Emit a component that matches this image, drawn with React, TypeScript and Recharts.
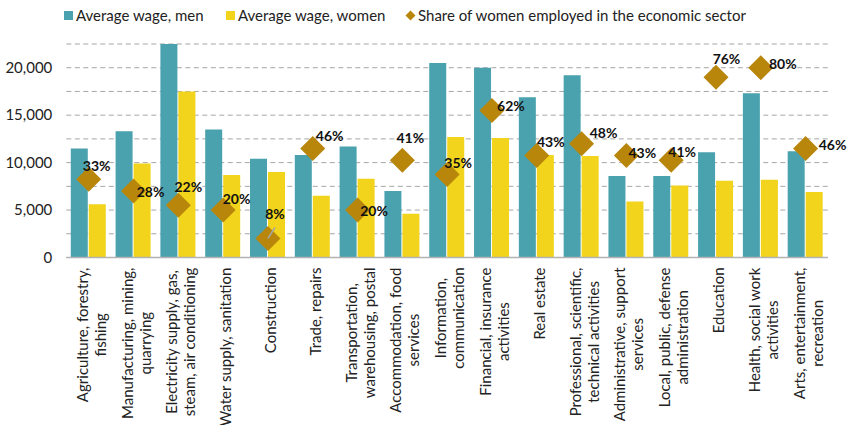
import React from 'react';
import { ComposedChart, Bar, Line, XAxis, YAxis, CartesianGrid, LabelList } from 'recharts';

const categories = [
  'Agriculture, forestry,\nfishing',
  'Manufacturing, mining,\nquarrying',
  'Electricity supply, gas,\nsteam, air conditioning',
  'Water supply, sanitation',
  'Construction',
  'Trade, repairs',
  'Transportation,\nwarehousing, postal',
  'Accommodation, food\nservices',
  'Information,\ncommunication',
  'Financial, insurance\nactivities',
  'Real estate',
  'Professional, scientific,\ntechnical activities',
  'Administrative, support\nservices',
  'Local, public, defense\nadministration',
  'Education',
  'Health, social work\nactivities',
  'Arts, entertainment,\nrecreation',
];
const menWages = [11500, 13300, 22500, 13500, 10400, 10800, 11700, 7000, 20500, 20000, 16900, 19200, 8600, 8600, 11100, 17300, 11200];
const womenWages = [5600, 9900, 17500, 8700, 9000, 6500, 8300, 4600, 12700, 12600, 10800, 10700, 5900, 7600, 8100, 8200, 6900];
const womenShare = [33, 28, 22, 20, 8, 46, 20, 41, 35, 62, 43, 48, 43, 41, 76, 80, 46];
const wageTicks = [0, 2500, 5000, 7500, 10000, 12500, 15000, 17500, 20000, 22500];
const seriesNames = ['Average wage, men', 'Average wage, women', 'Share of women employed in the economic sector'];

// label placement relative to each diamond (layout, not data)
const shareLabelOffsets: [number, number][] = [
  [8, -14], [17, 0], [10, -19], [13.5, -12], [7, -25], [17, -13], [16.5, 0], [8, -23], [11, -12],
  [19, -5], [14, -14], [22, -11], [16, -3], [11, -9], [10.5, -19], [22, -4], [27, -4],
];

const TEAL = '#4aa2ae';
const YELLOW = '#f1d41b';
const GOLD = '#b8860b';
const FONT = 'Lato, "Open Sans", sans-serif';

const data = categories.map((c, i) => ({
  name: c,
  men: menWages[i],
  women: womenWages[i],
  share: womenShare[i],
}));

let ctx: CanvasRenderingContext2D | null = null;
const measure = (t: string) => {
  if (!ctx) ctx = document.createElement('canvas').getContext('2d');
  if (!ctx) return t.length * 7;
  ctx.font = '15px Lato';
  return ctx.measureText(t).width;
};

const CategoryTick = (props: any) => {
  const { x, y, payload } = props;
  const lines = String(payload.value).split('\n');
  const maxW = Math.max(...lines.map(measure));
  const n = lines.length;
  return (
    <g transform={`translate(${x + 2},${y + 10}) rotate(-90)`}>
      {lines.map((l, i) => (
        <text
          key={i}
          x={-maxW / 2}
          y={(i - (n - 1) / 2) * 18}
          textAnchor="middle"
          dominantBaseline="central"
          fontFamily={FONT}
          fontSize={15}
          fill="#222"
        >
          {l}
        </text>
      ))}
    </g>
  );
};

const Diamond = (props: any) => {
  const { cx, cy, index } = props;
  if (cx == null || cy == null) return <g key={index} />;
  const r = 12.5;
  return (
    <path
      key={index}
      d={`M${cx},${cy - r} L${cx + r},${cy} L${cx},${cy + r} L${cx - r},${cy} Z`}
      fill={GOLD}
    />
  );
};

const ShareLabel = (props: any) => {
  const { x, y, value, index } = props;
  const [dx, dy] = shareLabelOffsets[index] || [10, -10];
  return (
    <g>
      {index === 4 && (
        <line x1={x} y1={y} x2={x + 7} y2={y - 11} stroke="#a6a6a6" strokeWidth={1.5} />
      )}
      <text
        x={x + dx}
        y={y + dy}
        textAnchor="middle"
        dominantBaseline="central"
        fontFamily={FONT}
        fontWeight="bold"
        fontSize={14}
        fill="#111"
      >
        {`${value}%`}
      </text>
    </g>
  );
};

const legendText: React.CSSProperties = {
  position: 'absolute',
  top: 6,
  fontFamily: FONT,
  fontSize: 15,
  color: '#222',
  lineHeight: '18px',
  whiteSpace: 'nowrap',
};

export default function App() {
  return (
    <div style={{ position: 'fixed', left: 0, top: 0, width: 851, height: 425, background: '#fff' }}>
      <ComposedChart
        width={851}
        height={425}
        data={data}
        margin={{ top: 44, right: 23, bottom: 7.5, left: 0 }}
        barCategoryGap="10%"
        barGap={1}
      >
        <CartesianGrid yAxisId="left" vertical={false} stroke="#a6a6a6" strokeDasharray="5 3.5" />
        <XAxis
          dataKey="name"
          interval={0}
          tickLine={false}
          tickSize={0}
          tickMargin={0}
          height={160}
          axisLine={{ stroke: '#b3b3b3', strokeWidth: 1.5 }}
          tick={<CategoryTick />}
        />
        <YAxis
          yAxisId="left"
          width={66.3}
          domain={[0, 22500]}
          allowDataOverflow
          ticks={wageTicks}
          interval={0}
          axisLine={false}
          tickLine={false}
          tickSize={0}
          tickMargin={14}
          tick={{ fontFamily: FONT, fontSize: 15, fill: '#222' }}
          tickFormatter={(v: number) => (v % 5000 === 0 ? v.toLocaleString('en-US') : '')}
        />
        <YAxis yAxisId="right" orientation="right" hide width={0} domain={[0, 90]} />
        <Bar yAxisId="left" dataKey="men" name={seriesNames[0]} fill={TEAL} isAnimationActive={false} />
        <Bar yAxisId="left" dataKey="women" name={seriesNames[1]} fill={YELLOW} isAnimationActive={false} />
        <Line
          yAxisId="right"
          dataKey="share"
          name={seriesNames[2]}
          stroke="none"
          dot={Diamond}
          activeDot={false}
          isAnimationActive={false}
        >
          <LabelList dataKey="share" content={ShareLabel} />
        </Line>
      </ComposedChart>
      <div style={{ position: 'absolute', left: 64, top: 11, width: 9, height: 9, background: TEAL }} />
      <div style={{ ...legendText, left: 76 }}>{seriesNames[0]}</div>
      <div style={{ position: 'absolute', left: 226, top: 11, width: 9, height: 9, background: YELLOW }} />
      <div style={{ ...legendText, left: 238 }}>{seriesNames[1]}</div>
      <svg style={{ position: 'absolute', left: 405, top: 10 }} width={11} height={11}>
        <path d="M5.5,0.5 L10.5,5.5 L5.5,10.5 L0.5,5.5 Z" fill={GOLD} />
      </svg>
      <div style={{ ...legendText, left: 418 }}>{seriesNames[2]}</div>
    </div>
  );
}
